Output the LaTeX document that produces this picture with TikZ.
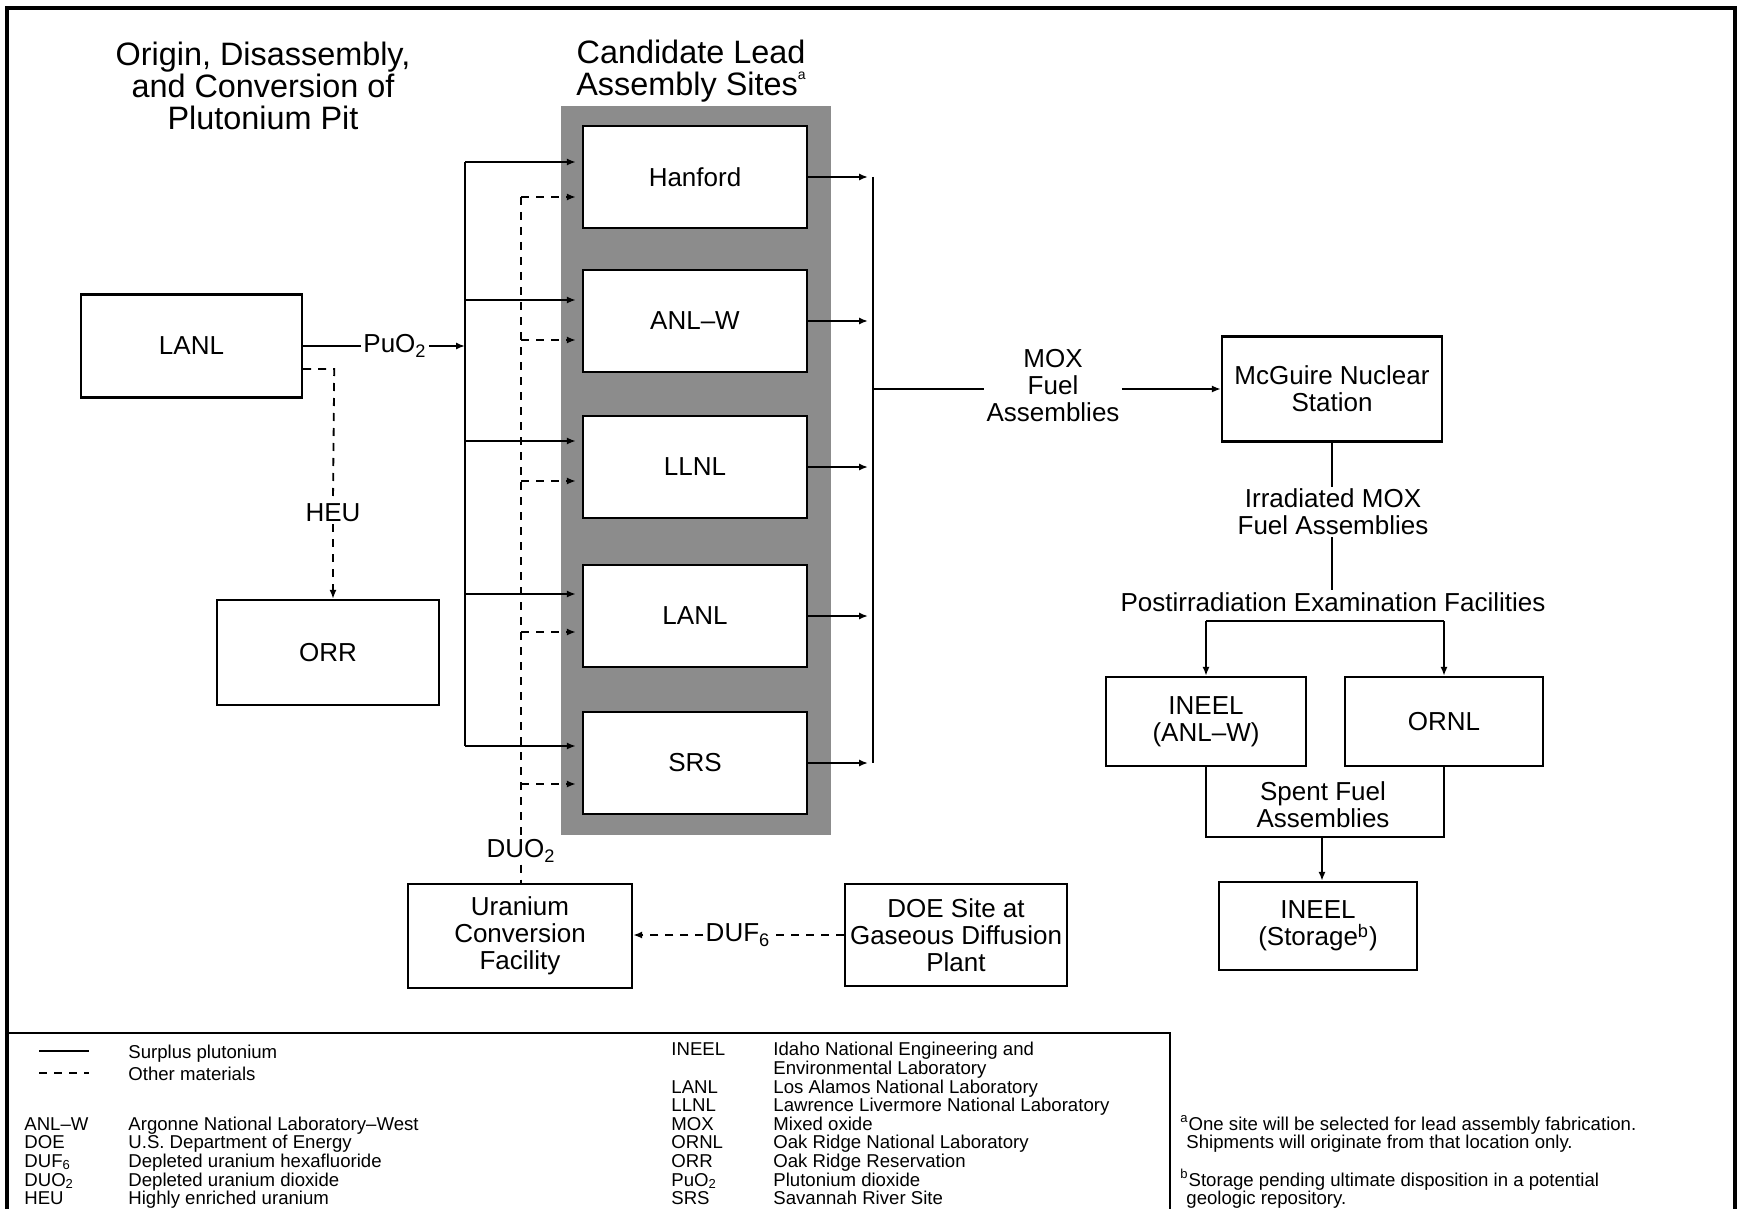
\documentclass[tikz,border=0pt]{standalone}
\usepackage{fontspec}
\setmainfont{Liberation Sans}
\usetikzlibrary{arrows.meta,calc}
\newcommand{\bxf}{\fontsize{13}{13.5}\selectfont}
\newcommand{\ttlf}{\fontsize{16.2}{16}\selectfont}
\newcommand{\lgf}{\fontsize{9.3}{9.3}\selectfont}
\newcommand{\tinymark}[1]{\raisebox{0.9ex}{\fontsize{7}{7}\selectfont #1}}
\begin{document}
\begin{tikzpicture}[x=0.5pt,y=-0.5pt,
  box/.style={draw,line width=1.2pt,fill=white,inner sep=0pt,align=center,font=\bxf},
  lbl/.style={inner sep=1pt,align=center,font=\bxf},
  flow/.style={line width=0.9pt},
  oth/.style={line width=0.9pt,dash pattern=on 4pt off 3.5pt},
  tip/.style={-{Latex[length=4.5pt,width=3.6pt]}},
  lg/.style={inner sep=0pt,anchor=base west,font=\lgf},
]
\useasboundingbox (0,0) rectangle (1739,1209);
% frames
\draw[line width=1.6pt] (7,1209) -- (7,8) -- (1735,8) -- (1735,1209);
\draw[line width=1.2pt] (7,1033) -- (1170,1033) -- (1170,1209);

% titles
\node[font=\ttlf,align=center] (t1) at (263,86) {Origin, Disassembly,\\and Conversion of\\Plutonium Pit};
\node[font=\ttlf,align=center,inner sep=1pt] (t2) at (691,71) {Candidate Lead\\Assembly Sites\tinymark{a}};

% gray panel and site boxes
\node[fill=black!45,minimum width=135pt,minimum height=364.5pt,inner sep=0pt] (panel) at (696,470.5) {};
\node[box,minimum width=112pt,minimum height=51pt] (han) at (695,177) {Hanford};
\node[box,minimum width=112pt,minimum height=51pt] (anl) at (695,321) {ANL–W};
\node[box,minimum width=112pt,minimum height=51pt] (llnl) at (695,467) {LLNL};
\node[box,minimum width=112pt,minimum height=51pt] (lanlS) at (695,616) {LANL};
\node[box,minimum width=112pt,minimum height=51pt] (srs) at (695,763) {SRS};

% left boxes
\node[box,minimum width=110.5pt,minimum height=51.5pt] (lanl) at (191.5,346) {LANL};
\node[box,minimum width=111pt,minimum height=52.5pt] (orr) at (328,652.5) {ORR};

% solid bus
\coordinate (sT) at (465,162);
\coordinate (sB) at (465,746);
\draw[flow] (sT) -- (sB);
\foreach \n/\y/\b in {1/162/han,2/300/anl,3/441/llnl,4/594/lanlS,5/746/srs}{
  \coordinate (s\n) at (465,\y);
  \draw[flow,tip,shorten >=3pt] (s\n) -- (s\n -| \b.west);
}
% PuO2
\node[lbl] (pu) at (395,346) {PuO\textsubscript{2}};
\coordinate (sP) at (465,346);
\draw[flow] (lanl.east) -- (pu.west);
\draw[flow,tip] (pu.east) -- (sP);
% HEU
\coordinate (h1) at ($(lanl.east)+(0,23)$);
\coordinate (h2) at ($(h1)+(31,0)$);
\node[lbl,fill=white] (heu) at (333,513) {HEU};
\draw[oth] (h1) -- (h2) -- (heu.north);
\draw[oth,tip] (heu.south) -- (heu.south |- orr.north);

% bottom boxes
\node[box,minimum width=112pt,minimum height=52pt] (ucf) at (520,936) {Uranium\\Conversion\\Facility};
\node[box,minimum width=111pt,minimum height=51pt] (doe) at (956,935) {DOE Site at\\Gaseous Diffusion\\Plant};
\node[lbl] (duf) at (738,935) {DUF\textsubscript{6}};
\draw[oth] (doe.west) -- (duf.east);
\draw[oth,tip] (duf.west) -- (duf.west -| ucf.east);

% dashed bus
\coordinate (dT) at (521,197);
\node[lbl] (duo) at (521,851) {DUO\textsubscript{2}};
\draw[oth] (dT) -- (duo.north);
\draw[oth] (duo.south) -- (duo.south |- ucf.north);
\foreach \n/\y/\b in {1/197/han,2/340/anl,3/481/llnl,4/632/lanlS,5/784/srs}{
  \coordinate (d\n) at (521,\y);
  \draw[oth,tip,shorten >=3pt] (d\n) -- (d\n -| \b.west);
}

% right bus
\coordinate (rT) at (873,177);
\coordinate (rB) at (873,763);
\draw[flow] (rT) -- (rB);
\foreach \b in {han,anl,llnl,lanlS,srs}{
  \draw[flow,tip,shorten >=2.5pt] (\b.east) -- (\b.east -| rT);
}

% MOX and McGuire
\node[lbl] (mox) at (1053,386) {MOX\\Fuel\\Assemblies};
\node[box,minimum width=110pt,minimum height=52.5pt] (mcg) at (1332,389) {McGuire Nuclear\\Station};
\coordinate (rM) at (873,389);
\draw[flow] (rM) -- (rM -| mox.west);
\draw[flow,tip] (mox.east |- mcg.west) -- (mcg.west);

\node[lbl] (irr) at (1333,512) {Irradiated MOX\\Fuel Assemblies};
\draw[flow] (mcg.south) -- (mcg.south |- irr.north);
\node[lbl] (pie) at (1333,602) {Postirradiation Examination Facilities};
\draw[flow] (irr.south -| mcg.south) -- (mcg.south |- pie.north);

\node[box,minimum width=100pt,minimum height=44.5pt] (ineelA) at (1206,721.5) {INEEL\\(ANL–W)};
\node[box,minimum width=99pt,minimum height=44.5pt] (ornl) at (1444,721.5) {ORNL};
\coordinate (pL) at (1206,621);
\coordinate (pR) at (1444,621);
\draw[flow] (pL) -- (pR);
\draw[flow,tip] (pL) -- (ineelA.north);
\draw[flow,tip] (pR) -- (ornl.north);

\node[box,minimum width=99pt,minimum height=44pt] (store) at (1318,926) {INEEL\\(Storage\textsuperscript{b})};
\coordinate (fL) at (1206,837);
\coordinate (fR) at (1444,837);
\draw[flow] (ineelA.south) -- (fL) -- (fR) -- (ornl.south);
\node[lbl] (spent) at (1323,805) {Spent Fuel\\Assemblies};
\coordinate (fM) at (1322,837);
\draw[flow,tip] (fM) -- (fM |- store.north);

% legend
\coordinate (lgA) at (39,1051); \coordinate (lgB) at (89,1051);
\draw[flow] (lgA) -- (lgB);
\coordinate (lgC) at (39,1073); \coordinate (lgD) at (89,1073);
\draw[oth] (lgC) -- (lgD);
\node[lg] (lg1) at (128,1058) {Surplus plutonium};
\node[lg] (lg2) at (128,1080) {Other materials};
\foreach \i/\y/\a/\d in {1/1130/{ANL–W}/{Argonne National Laboratory–West},
  2/1148/{DOE}/{U.S. Department of Energy},
  3/1167/{DUF\textsubscript{6}}/{Depleted uranium hexafluoride},
  4/1186/{DUO\textsubscript{2}}/{Depleted uranium dioxide},
  5/1204/{HEU}/{Highly enriched uranium}}{
  \node[lg] (ab\i) at (24,\y) {\a};
  \node[lg] (df\i) at (128,\y) {\d};
}
\node[lg] (rab1) at (671,1055) {INEEL};
\node[lg] (rdf1) at (773,1055) {Idaho National Engineering and};
\node[lg] (rdf1b) at (773,1074) {Environmental Laboratory};
\foreach \i/\y/\a/\d in {3/1093/{LANL}/{Los Alamos National Laboratory},
  4/1111/{LLNL}/{Lawrence Livermore National Laboratory},
  5/1130/{MOX}/{Mixed oxide},
  6/1148/{ORNL}/{Oak Ridge National Laboratory},
  7/1167/{ORR}/{Oak Ridge Reservation},
  8/1186/{PuO\textsubscript{2}}/{Plutonium dioxide},
  9/1204/{SRS}/{Savannah River Site}}{
  \node[lg] (rab\i) at (671,\y) {\a};
  \node[lg] (rdf\i) at (773,\y) {\d};
}
\node[lg] (fn1) at (1180,1130) {\textsuperscript{a}One site will be selected for lead assembly fabrication.};
\node[lg] (fn2) at (1186,1148) {Shipments will originate from that location only.};
\node[lg] (fn3) at (1180,1186) {\textsuperscript{b}Storage pending ultimate disposition in a potential};
\node[lg] (fn4) at (1186,1204) {geologic repository.};
\end{tikzpicture}
\end{document}
